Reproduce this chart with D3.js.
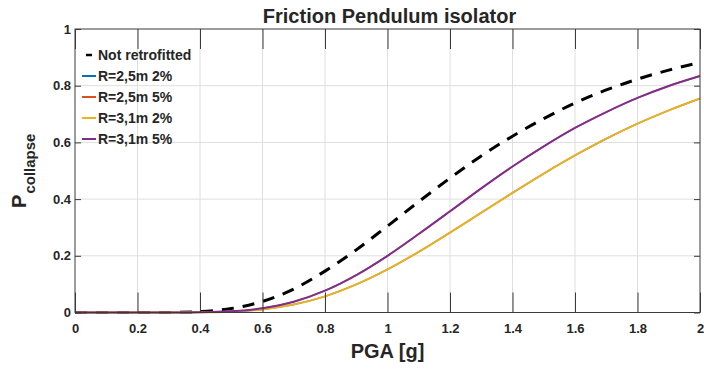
<!DOCTYPE html>
<html>
<head>
<meta charset="utf-8">
<script src="https://cdn.jsdelivr.net/npm/d3@7"></script>
<style>
  html, body { margin: 0; padding: 0; background: #fff; }
  svg { display: block; }
  text { font-family: "Liberation Sans", Arial, Helvetica, sans-serif; font-weight: bold; fill: #262626; }
</style>
</head>
<body>
<svg id="chart" width="704" height="369"></svg>
<script>
// Peak ground acceleration samples [g]
const pga = [0, 0.1, 0.2, 0.3, 0.4, 0.5, 0.6, 0.7, 0.8, 0.9, 1.0,
             1.1, 1.2, 1.3, 1.4, 1.5, 1.6, 1.7, 1.8, 1.9, 2.0];

// Collapse probability (fragility curves)
const notRetrofitted = [0, 0, 0, 0.0003, 0.003, 0.014, 0.039, 0.083, 0.146, 0.221, 0.305,
                        0.391, 0.474, 0.552, 0.622, 0.684, 0.739, 0.785, 0.823, 0.855, 0.882];
const r25m2 = [0, 0, 0, 0, 0.0005, 0.003, 0.011, 0.028, 0.057, 0.099, 0.152,
               0.214, 0.282, 0.352, 0.422, 0.490, 0.554, 0.613, 0.666, 0.713, 0.755];
const r25m5 = [0, 0, 0, 0, 0.0006, 0.004, 0.015, 0.038, 0.077, 0.132, 0.200,
               0.277, 0.357, 0.438, 0.515, 0.586, 0.651, 0.707, 0.757, 0.799, 0.834];
const r31m2 = [0, 0, 0, 0, 0.0005, 0.003, 0.011, 0.028, 0.057, 0.099, 0.152,
               0.214, 0.282, 0.352, 0.422, 0.490, 0.554, 0.613, 0.666, 0.713, 0.755];
const r31m5 = [0, 0, 0, 0, 0.0006, 0.004, 0.015, 0.038, 0.077, 0.132, 0.200,
               0.277, 0.357, 0.438, 0.515, 0.586, 0.651, 0.707, 0.757, 0.799, 0.834];

const seriesNames = ["Not retrofitted", "R=2,5m 2%", "R=2,5m 5%", "R=3,1m 2%", "R=3,1m 5%"];
const seriesValues = [notRetrofitted, r25m2, r25m5, r31m2, r31m5];

const xTicks = [0, 0.2, 0.4, 0.6, 0.8, 1, 1.2, 1.4, 1.6, 1.8, 2];
const yTicks = [0, 0.2, 0.4, 0.6, 0.8, 1];

const titleText = "Friction Pendulum isolator";
const xLabelText = "PGA [g]";

// Line styles for each series (the R=2,5m curves lie under the R=3,1m ones)
const styles = [
  { color: "#000000", width: 3, dash: "12,9" },
  { color: "#0072BD", width: 1.5, dash: null },
  { color: "#D95319", width: 1.5, dash: null },
  { color: "#EDB120", width: 2, dash: null },
  { color: "#7E2F8E", width: 2, dash: null }
];

const svg = d3.select("#chart");
const plot = { left: 75, right: 700, top: 29, bottom: 312.5 };

const x = d3.scaleLinear().domain([0, 2]).range([plot.left, plot.right]);
const y = d3.scaleLinear().domain([0, 1]).range([plot.bottom, plot.top]);

svg.append("rect").attr("width", 704).attr("height", 369).attr("fill", "#fff");

// Grid
const grid = svg.append("g").attr("stroke", "#dedede").attr("stroke-width", 1);
grid.selectAll("line.v").data(xTicks.slice(1, -1)).join("line")
  .attr("x1", d => x(d)).attr("x2", d => x(d))
  .attr("y1", plot.top).attr("y2", plot.bottom);
grid.selectAll("line.h").data(yTicks.slice(1, -1)).join("line")
  .attr("y1", d => y(d)).attr("y2", d => y(d))
  .attr("x1", plot.left).attr("x2", plot.right);

// Curves
const line = d3.line()
  .x((d, i) => x(pga[i]))
  .y(d => y(d))
  .curve(d3.curveMonotoneX);

const curves = svg.append("g").attr("fill", "none");
seriesValues.forEach((vals, k) => {
  curves.append("path")
    .attr("d", line(vals))
    .attr("stroke", styles[k].color)
    .attr("stroke-width", styles[k].width)
    .attr("stroke-dasharray", styles[k].dash)
    .attr("stroke-linejoin", "round");
});

// Axes (ticks pointing inward)
const fmt = d3.format("~g");
const axisColor = "#3a3a3a";

const gx = svg.append("g").attr("transform", `translate(0,${plot.bottom})`)
  .call(d3.axisBottom(x).tickValues(xTicks).tickFormat(fmt).tickSize(-20).tickSizeOuter(0).tickPadding(11));
const gxTop = svg.append("g").attr("transform", `translate(0,${plot.top})`)
  .call(d3.axisTop(x).tickValues(xTicks).tickFormat("").tickSize(-20).tickSizeOuter(0));
const gy = svg.append("g").attr("transform", `translate(${plot.left},0)`)
  .call(d3.axisLeft(y).tickValues(yTicks).tickFormat(fmt).tickSize(-6).tickSizeOuter(0).tickPadding(4));
const gyRight = svg.append("g").attr("transform", `translate(${plot.right},0)`)
  .call(d3.axisRight(y).tickValues(yTicks).tickFormat("").tickSize(-6).tickSizeOuter(0));

[gx, gxTop, gy, gyRight].forEach(g => {
  g.select(".domain").remove();
  g.selectAll(".tick line").attr("stroke", axisColor).attr("stroke-width", 1);
  g.selectAll(".tick text")
    .attr("fill", "#262626")
    .style("font-family", "'Liberation Sans', Arial, sans-serif")
    .style("font-weight", "bold")
    .style("font-size", "13px");
});

svg.append("rect")
  .attr("x", plot.left).attr("y", plot.top)
  .attr("width", plot.right - plot.left).attr("height", plot.bottom - plot.top)
  .attr("fill", "none").attr("stroke", axisColor).attr("stroke-width", 1);

// Title and axis labels
svg.append("text")
  .attr("x", (plot.left + plot.right) / 2 + 2).attr("y", 23)
  .attr("text-anchor", "middle").style("font-size", "20px")
  .text(titleText);

svg.append("text")
  .attr("x", (plot.left + plot.right) / 2).attr("y", 358)
  .attr("text-anchor", "middle").style("font-size", "20px")
  .text(xLabelText);

const yl = svg.append("text")
  .attr("transform", `translate(26,${(plot.top + plot.bottom) / 2}) rotate(-90)`)
  .attr("text-anchor", "middle");
yl.append("tspan").style("font-size", "20px").text("P");
yl.append("tspan").style("font-size", "15px").attr("dx", 1).attr("dy", 9).text("collapse");

// Legend
const legend = svg.append("g");
seriesNames.forEach((name, k) => {
  const cy = 55 + k * 21;
  if (styles[k].dash) {
    legend.append("line")
      .attr("x1", 86).attr("x2", 92).attr("y1", cy).attr("y2", cy)
      .attr("stroke", styles[k].color).attr("stroke-width", 2.5);
  } else {
    legend.append("line")
      .attr("x1", 82).attr("x2", 96).attr("y1", cy).attr("y2", cy)
      .attr("stroke", styles[k].color).attr("stroke-width", 2);
  }
  legend.append("text")
    .attr("x", 98).attr("y", cy + 5)
    .style("font-size", "14px")
    .text(name);
});
</script>
</body>
</html>
